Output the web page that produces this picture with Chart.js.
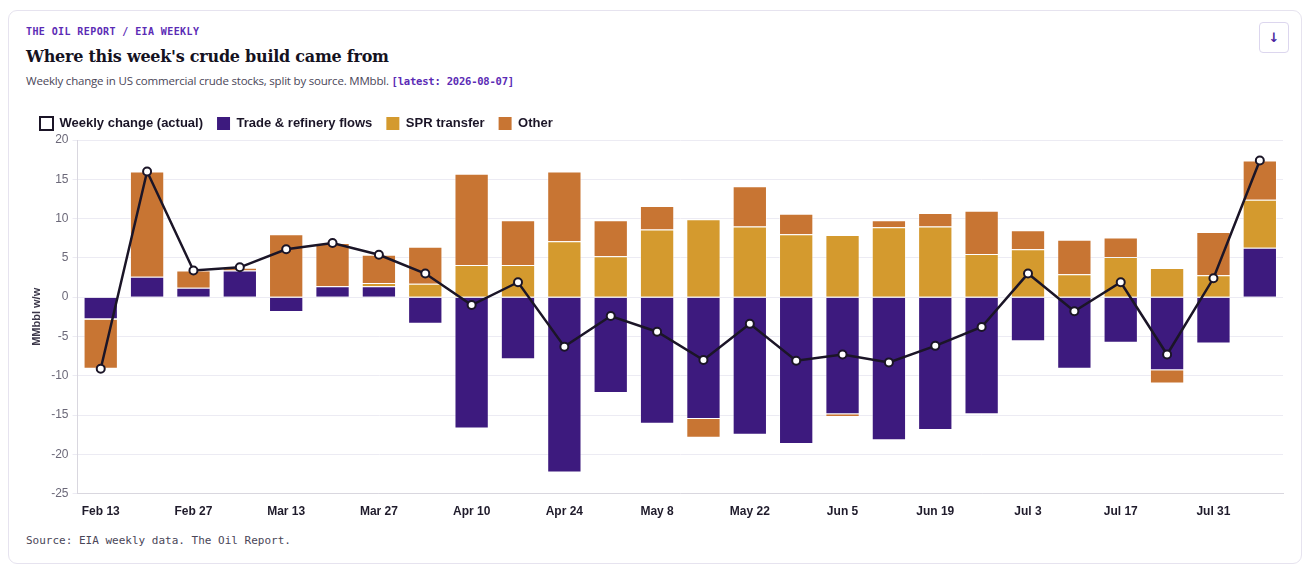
<!DOCTYPE html>
<html>
<head>
<meta charset="utf-8">
<script src="https://cdn.jsdelivr.net/npm/chart.js@4.4.1/dist/chart.umd.min.js"></script>
<style>
  html, body { margin: 0; padding: 0; background: #fff; }
  body { width: 1310px; height: 567px; position: relative; overflow: hidden; }
  .card {
    position: absolute; left: 8px; top: 10px; width: 1292px; height: 552px;
    border: 1px solid #e6e3ef; border-radius: 9px; background: #fff;
  }
  .kicker {
    position: absolute; left: 17px; top: 15px;
    font-family: "DejaVu Sans Mono", monospace; font-size: 10px; font-weight: bold;
    color: #5b2bb5; letter-spacing: 0.4px;
  }
  .title {
    position: absolute; left: 17px; top: 36px;
    font-family: "DejaVu Serif", Georgia, serif; font-size: 16px; font-weight: bold;
    color: #15121f; letter-spacing: -0.25px;
  }
  .sub {
    position: absolute; left: 17px; top: 62px;
    font-family: "Open Sans", sans-serif; font-size: 11.5px; color: #4a4658; letter-spacing: -0.2px;
  }
  .sub span {
    font-family: "DejaVu Sans Mono", monospace; font-size: 10.5px; font-weight: bold; color: #5b2bb5;
  }
  .btn {
    position: absolute; left: 1250px; top: 11px; width: 30px; height: 31px;
    border: 1px solid #dcd6ee; border-radius: 4px; box-sizing: border-box;
    color: #4a1fa0; font-family: "DejaVu Sans", sans-serif; font-size: 13px; font-weight: bold;
    text-align: center; line-height: 29px;
  }
  .chartbox { position: absolute; left: 17px; top: 92px; width: 1263px; height: 419px; }
  .src {
    position: absolute; left: 17px; top: 523px;
    font-family: "DejaVu Sans Mono", monospace; font-size: 11px; color: #4a4658;
  }
</style>
</head>
<body>
<div class="card">
  <div class="kicker">THE OIL REPORT / EIA WEEKLY</div>
  <div class="title">Where this week's crude build came from</div>
  <div class="sub">Weekly change in US commercial crude stocks, split by source. MMbbl. <span>[latest: 2026-08-07]</span></div>
  <div class="btn">&#8595;</div>
  <div class="chartbox"><canvas id="myChart"></canvas></div>
  <div class="src">Source: EIA weekly data. The Oil Report.</div>
</div>
<script>
// weeks (every other one gets a tick label)
const weeks = ['Feb 13', 'Feb 20', 'Feb 27', 'Mar 6', 'Mar 13', 'Mar 20', 'Mar 27', 'Apr 3', 'Apr 10', 'Apr 17',
    'Apr 24', 'May 1', 'May 8', 'May 15', 'May 22', 'May 29', 'Jun 5', 'Jun 12', 'Jun 19', 'Jun 26',
    'Jul 3', 'Jul 10', 'Jul 17', 'Jul 24', 'Jul 31', 'Aug 7'];

const tradeFlows = [-2.8, 2.6, 1.2, 3.4, -1.9, 1.4, 1.4, -3.4, -16.7, -7.9,
    -22.3, -12.2, -16.1, -15.5, -17.5, -18.7, -14.9, -18.2, -16.9, -14.9,
    -5.6, -9.1, -5.8, -9.3, -5.9, 6.3];
const sprTransfer = [-0.1, 0, 0, -0.1, 0, 0, 0.4, 1.7, 4.1, 4.1,
    7.1, 5.2, 8.6, 9.9, 9.0, 8.0, 7.9, 8.9, 9.0, 5.5,
    6.1, 2.9, 5.1, 3.7, 2.8, 6.1];
const other = [-6.2, 13.4, 2.2, 0.35, 8.0, 5.5, 3.6, 4.7, 11.6, 5.7,
    8.9, 4.6, 3.0, -2.4, 5.1, 2.6, -0.35, 0.9, 1.7, 5.5,
    2.4, 4.4, 2.5, -1.7, 5.5, 5.0];
const actual = [-9.1, 16.0, 3.4, 3.8, 6.1, 6.9, 5.4, 3.0, -1.0, 1.9,
    -6.3, -2.4, -4.4, -8.0, -3.4, -8.1, -7.3, -8.3, -6.2, -3.8,
    3.0, -1.8, 1.9, -7.3, 2.4, 17.4];

const yMin = -25, yMax = 20, yStep = 5;

const ctx = document.getElementById('myChart');

// setup block
const data = {
    labels: weeks,
    datasets: [
        {
            type: 'line',
            label: 'Weekly change (actual)',
            data: actual,
            stack: 'actual',
            order: 0,
            borderColor: '#1b1527',
            backgroundColor: '#ffffff',
            borderWidth: 2.5,
            pointRadius: 4,
            pointBorderWidth: 2,
            pointBackgroundColor: '#ffffff',
            pointBorderColor: '#1b1527',
            tension: 0
        },
        {
            label: 'Trade & refinery flows',
            data: tradeFlows,
            stack: 'src',
            order: 1,
            backgroundColor: '#3d1a7e',
            borderColor: 'rgba(255,255,255,0.45)',
            borderWidth: 1
        },
        {
            label: 'SPR transfer',
            data: sprTransfer,
            stack: 'src',
            order: 2,
            backgroundColor: '#d49a2e',
            borderColor: 'rgba(255,255,255,0.45)',
            borderWidth: 1
        },
        {
            label: 'Other',
            data: other,
            stack: 'src',
            order: 3,
            backgroundColor: '#c87533',
            borderColor: 'rgba(255,255,255,0.45)',
            borderWidth: 1
        }
    ]
};

//config block
const config = {
    type: 'bar',
    data,
    options: {
        responsive: true,
        maintainAspectRatio: false,
        animation: false,
        datasets: {
            bar: { barPercentage: 0.74, categoryPercentage: 1.0 }
        },
        layout: { padding: 0 },
        plugins: {
            tooltip: { enabled: false },
            legend: {
                position: 'top',
                align: 'start',
                labels: {
                    boxWidth: 13,
                    boxHeight: 13,
                    padding: 14,
                    color: '#1b1527',
                    font: { family: 'Liberation Sans', size: 13, weight: 'bold' },
                    generateLabels: function (chart) {
                        return chart.data.datasets.map(function (ds, i) {
                            const isLine = ds.type === 'line';
                            return {
                                text: ds.label,
                                fillStyle: isLine ? '#ffffff' : ds.backgroundColor,
                                strokeStyle: isLine ? '#1b1527' : ds.backgroundColor,
                                lineWidth: isLine ? 2 : 0,
                                fontColor: '#1b1527',
                                hidden: false,
                                datasetIndex: i
                            };
                        });
                    }
                }
            }
        },
        scales: {
            x: {
                stacked: true,
                grid: { display: false },
                border: { display: true, color: '#d9d7df' },
                ticks: {
                    autoSkip: false,
                    maxRotation: 0,
                    color: '#1f1b2b',
                    font: { family: 'Liberation Sans', size: 12, weight: 'bold' },
                    callback: function (value, index) {
                        return index % 2 === 0 ? this.getLabelForValue(value) : '';
                    }
                }
            },
            y: {
                stacked: true,
                min: yMin,
                max: yMax,
                ticks: {
                    stepSize: yStep,
                    color: '#6b6878',
                    padding: 4,
                    font: { family: 'Liberation Sans', size: 12 }
                },
                grid: { color: '#ecebf3', tickLength: 5 },
                border: { display: true, color: '#d9d7df' },
                title: {
                    display: true,
                    text: 'MMbbl w/w',
                    color: '#3a3648',
                    font: { family: 'Liberation Sans', size: 11, weight: 'bold' }
                }
            }
        }
    }
};

//Render block
const myChart = new Chart(ctx, config);
</script>
</body>
</html>
